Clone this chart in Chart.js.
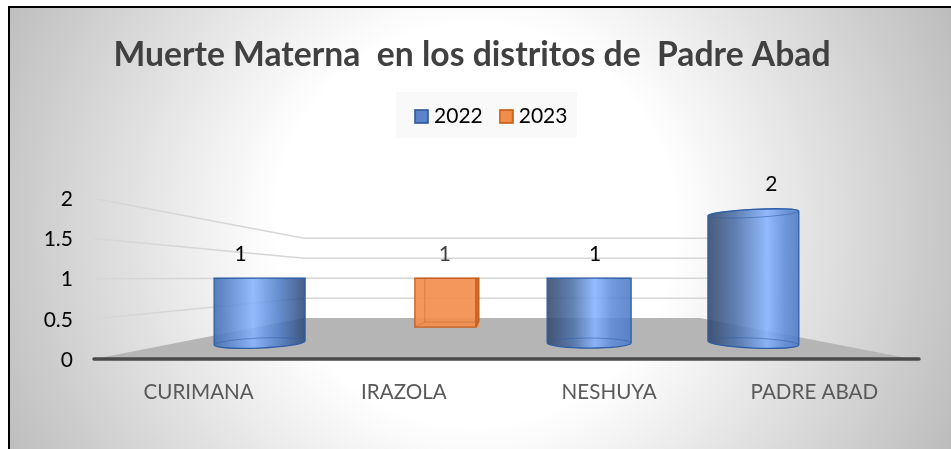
<!DOCTYPE html>
<html><head><meta charset="utf-8">
<style>html,body{margin:0;padding:0;background:#fff}#w{width:951px;height:449px}</style>
<script src="https://cdn.jsdelivr.net/npm/chart.js@4"></script>
</head><body><div id="w"><canvas id="c" width="951" height="449"></canvas></div>
<script>
const titleText = 'Muerte Materna  en los distritos de  Padre Abad';
const categories = ['CURIMANA', 'IRAZOLA', 'NESHUYA', 'PADRE ABAD'];
const values2022 = [1, null, 1, 2];
const values2023 = [null, 1, null, null];
const yTicks = [0, 0.5, 1, 1.5, 2];

// Perspective of the 3-D look: per-category drawing adjustments
const barShift = [61, 43, -20, -61];
const barWidth = [91, 64, 84, 91];
const labelShift = [42, 41, -14, -43];
const shinePeak = [0.43, 0.5, 0.57, 0.65];
const baseTilt = [-2.5, 0, 0, 2.5];

const FONT = 'Lato, Carlito, sans-serif';

function swatch(fill, edge) {
  const s = document.createElement('canvas');
  s.width = 15; s.height = 15;
  const g = s.getContext('2d');
  g.fillStyle = fill; g.fillRect(1, 1, 13, 13);
  g.strokeStyle = edge; g.lineWidth = 1.6; g.strokeRect(1, 1, 13, 13);
  return s;
}
const swatches = [swatch('#5b84cc', '#2f5597'), swatch('#f28e4c', '#c55a11')];

function paintCylinder(ctx, el, i) {
  const w = barWidth[i], cx = el.x + barShift[i], L = cx - w / 2, R = cx + w / 2;
  const top = el.y, base = el.base, rx = w / 2;
  const horizon = el.$horizon;
  const ryT = Math.abs(horizon - top) * 0.062, ryB = 5;
  const tB = baseTilt[i] * Math.PI / 180, tT = ryT > 0.5 ? -3 * Math.PI / 180 : 0;
  const p = shinePeak[i];
  const g = ctx.createLinearGradient(L, 0, R, 0);
  if (p < 0.5) {
    g.addColorStop(0, '#3f6ab0'); g.addColorStop(p, '#84b2ff');
    g.addColorStop(0.72, '#4f7cc6'); g.addColorStop(1, '#2c4674');
  } else {
    g.addColorStop(0, '#2f4468'); g.addColorStop(0.3, '#4a6ea8'); g.addColorStop(p, '#84b2ff');
    g.addColorStop(Math.min(p + 0.2, 0.95), '#5c8ad8'); g.addColorStop(1, '#4a78c4');
  }
  ctx.save();
  ctx.globalAlpha = 0.87;
  ctx.beginPath();
  ctx.ellipse(cx, top, rx, Math.max(ryT, 0.01), tT, Math.PI, 0);
  ctx.ellipse(cx, base, rx, ryB, tB, 0, Math.PI);
  ctx.closePath();
  ctx.fillStyle = g; ctx.fill();
  ctx.globalAlpha = 1;
  ctx.strokeStyle = '#2f5ea8'; ctx.lineWidth = 1.3; ctx.stroke();
  ctx.beginPath();
  ctx.ellipse(cx, base, rx, ryB, tB, Math.PI, 0);
  ctx.strokeStyle = 'rgba(47,94,168,.55)'; ctx.lineWidth = 1; ctx.stroke();
  if (ryT > 0.5) {
    ctx.beginPath();
    ctx.ellipse(cx, top, rx, ryT, tT, 0, Math.PI * 2);
    ctx.stroke();
  }
  ctx.restore();
}

function paintBox(ctx, el, i) {
  const w = barWidth[i], cx = el.x + barShift[i], L = cx - w / 2, R = cx + w / 2;
  const top = el.y, base = el.base;
  ctx.save();
  ctx.globalAlpha = 0.92;
  ctx.fillStyle = '#f28e4e'; ctx.fillRect(L, top, w, base - top);
  ctx.fillStyle = '#c8682a';
  ctx.beginPath(); ctx.moveTo(R - 3, top); ctx.lineTo(R, top); ctx.lineTo(R, base - 6); ctx.lineTo(R - 3, base); ctx.closePath(); ctx.fill();
  ctx.globalAlpha = 1;
  ctx.strokeStyle = '#c55f1c'; ctx.lineWidth = 1.3;
  ctx.beginPath();
  ctx.moveTo(L, top); ctx.lineTo(R, top); ctx.lineTo(R, base - 6); ctx.lineTo(R - 3, base); ctx.lineTo(L, base); ctx.closePath();
  ctx.moveTo(R - 3, top); ctx.lineTo(R - 3, base);
  ctx.stroke();
  ctx.strokeStyle = 'rgba(197,95,28,.45)'; ctx.lineWidth = 1;
  ctx.beginPath();
  ctx.moveTo(L + 10, top); ctx.lineTo(L + 10, base - 5); ctx.lineTo(R - 3, base - 5);
  ctx.moveTo(L + 10, base - 5); ctx.lineTo(L, base);
  ctx.stroke();
  ctx.restore();
}

const scene = {
  id: 'scene',
  beforeLayout(chart) {
    const lg = chart.legend;
    if (lg && !lg.$patched) {
      lg.$patched = true;
      const f = lg.fit;
      lg.fit = function () { f.call(this); this.height = 114; };
    }
  },
  afterLayout(chart) {
    const t = chart.titleBlock, lg = chart.legend;
    t.left += 13.5; t.right += 13.5;
    lg.left += 35; lg.right += 35;
  },
  afterDatasetsUpdate(chart) {
    const horizon = chart.scales.yBlue.getPixelForValue(1);
    chart.data.datasets.forEach((d, n) => {
      chart.getDatasetMeta(n).data.forEach((el, i) => {
        el.$horizon = horizon;
        el.draw = n === 0 ? function (ctx) { paintCylinder(ctx, this, i); }
                          : function (ctx) { paintBox(ctx, this, i); };
      });
    });
  },
  beforeDraw(chart) {
    const { ctx, width, height } = chart;
    ctx.save();
    ctx.fillStyle = '#fff'; ctx.fillRect(0, 0, width, height);
    const g = ctx.createRadialGradient(475, 225, 200, 475, 225, 525);
    g.addColorStop(0, '#ffffff'); g.addColorStop(1, '#bcbcbc');
    ctx.fillStyle = g; ctx.fillRect(9, 7, width - 9, height - 7);
    ctx.fillStyle = '#000';
    ctx.fillRect(8, 6, width - 8, 2); ctx.fillRect(8, 6, 2, height - 6);
    ctx.fillStyle = '#f9f9f9'; ctx.fillRect(396, 92, 181, 46);
    ctx.restore();
  },
  beforeDatasetsDraw(chart) {
    const { ctx, chartArea: a } = chart;
    const y = chart.scales.y, wall = chart.scales.yWall;
    const backL = 304, backR = 700, frontL = a.left - 2, frontR = 912;
    const floorBack = wall.getPixelForValue(0), floorFront = y.getPixelForValue(0);
    ctx.save();
    ctx.fillStyle = '#b5b5b5';
    ctx.beginPath();
    ctx.moveTo(frontL, floorFront); ctx.lineTo(backL, floorBack); ctx.lineTo(backR, floorBack); ctx.lineTo(frontR, floorFront);
    ctx.closePath(); ctx.fill();
    yTicks.filter(v => v > 0).forEach(v => {
      const py = y.getPixelForValue(v), wy = wall.getPixelForValue(v);
      ctx.beginPath();
      ctx.moveTo(frontL, py); ctx.lineTo(backL, wy); ctx.lineTo(backR + 8, wy);
      ctx.strokeStyle = '#d6d6d6'; ctx.lineWidth = 1.5; ctx.stroke();
    });
    ctx.beginPath();
    ctx.moveTo(a.left - 2, floorFront); ctx.lineTo(a.right + 2, floorFront);
    ctx.strokeStyle = '#4a4a4a'; ctx.lineWidth = 3.5; ctx.lineCap = 'round'; ctx.stroke();
    ctx.restore();
  },
  afterDatasetsDraw(chart) {
    const { ctx } = chart;
    ctx.save();
    ctx.font = '21px ' + FONT; ctx.textAlign = 'center'; ctx.textBaseline = 'middle';
    chart.data.datasets.forEach((d, n) => {
      chart.getDatasetMeta(n).data.forEach((el, i) => {
        if (d.data[i] === null) return;
        ctx.fillStyle = n === 0 ? '#000' : '#404040';
        const lift = 24 + (d.data[i] > 1 ? 5 : 0);
        ctx.fillText(String(d.data[i]), el.x + labelShift[i], el.y - lift);
      });
    });
    ctx.restore();
  }
};

new Chart(document.getElementById('c'), {
  type: 'bar',
  data: {
    labels: categories,
    datasets: [
      { label: '2022', data: values2022, yAxisID: 'yBlue', grouped: false, backgroundColor: '#4472c4', borderColor: '#2f5597' },
      { label: '2023', data: values2023, yAxisID: 'yOrange', grouped: false, backgroundColor: '#ed7d31', borderColor: '#c55a11' }
    ]
  },
  options: {
    responsive: false, animation: false,
    layout: { padding: { left: 0, right: 34, top: 0, bottom: 0 } },
    plugins: {
      tooltip: { enabled: false },
      title: { display: true, text: titleText, color: '#404040', font: { family: FONT, size: 33.7, weight: 'bold' }, padding: { top: 35, bottom: 9 } },
      legend: {
        display: true, position: 'top',
        labels: {
          font: { family: FONT, size: 21 }, color: '#000', padding: 21.5,
          usePointStyle: true, pointStyleWidth: 4, boxHeight: 14,
          generateLabels(chart) {
            return Chart.defaults.plugins.legend.labels.generateLabels(chart).map((it, k) => Object.assign(it, { pointStyle: swatches[k] }));
          }
        }
      }
    },
    scales: {
      x: {
        grid: { display: false }, border: { display: false },
        ticks: { font: { family: FONT, size: 20.6 }, color: '#595959', padding: 13, maxRotation: 0, autoSkip: false },
        afterFit(s) { s.height = 90; }
      },
      y: {
        min: 0, max: 2,
        afterBuildTicks(s) { s.ticks = yTicks.map(v => ({ value: v })); },
        grid: { display: false, drawTicks: false }, border: { display: false },
        ticks: { font: { family: FONT, size: 21 }, color: '#000', padding: 23, labelOffset: 1, callback: v => String(v) },
        afterFit(s) { s.width = 96; }
      },
      // Hidden depth planes: the bars and the back wall stand further away than the axis
      yBlue: { display: false, min: -0.246, max: 2.231 },
      yOrange: { display: false, min: -0.653, max: 2.633 },
      yWall: { display: false, min: -1.025, max: 3 }
    }
  },
  plugins: [scene]
});
</script></body></html>
